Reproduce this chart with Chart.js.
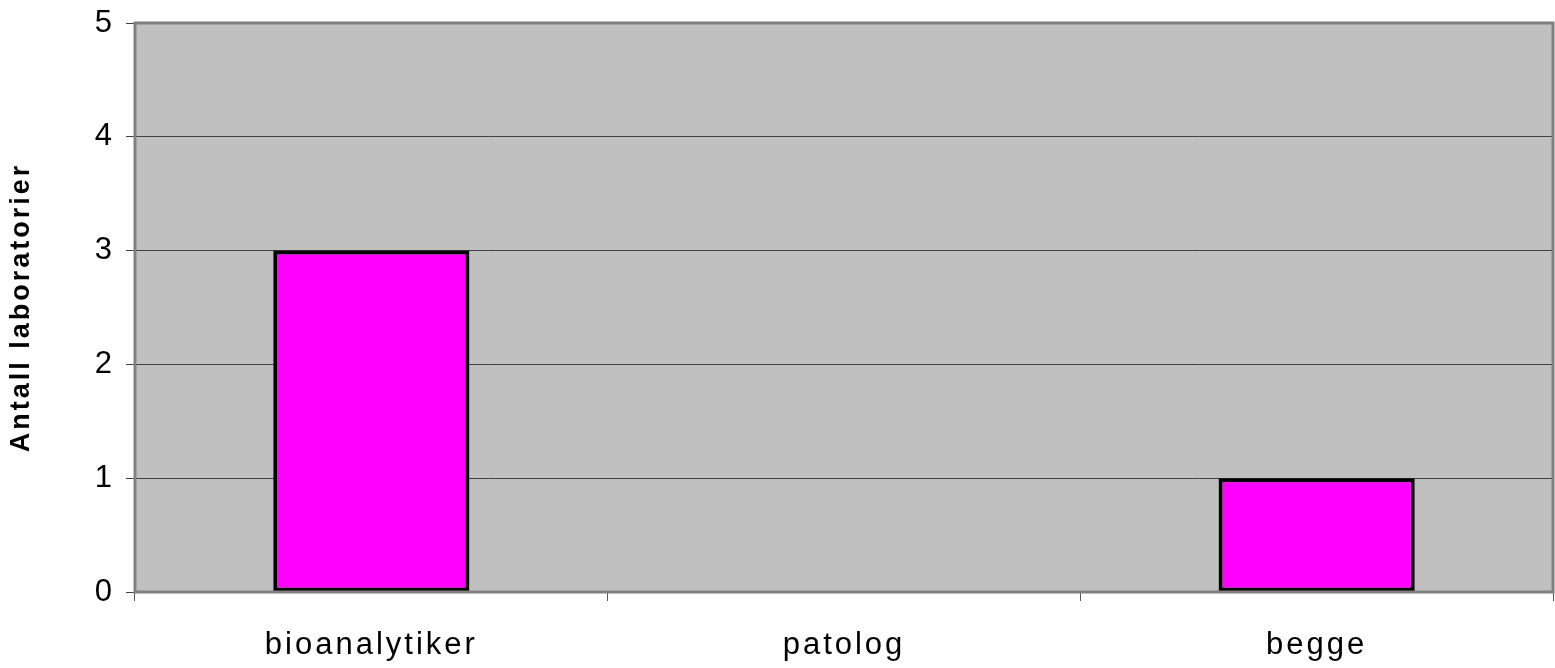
<!DOCTYPE html>
<html>
<head>
<meta charset="utf-8">
<script src="https://cdn.jsdelivr.net/npm/chart.js@4/dist/chart.umd.min.js"></script>
<style>
  html, body { margin: 0; padding: 0; background: #fff; }
  #wrap { width: 1555px; height: 668px; }
</style>
</head>
<body>
<div id="wrap"><canvas id="graph"></canvas></div>
<script>
const categories = ["bioanalytiker", "patolog", "begge"];
const antall = [3, 0, 1];
const yTicks = [0, 1, 2, 3, 4, 5];

// grey plot area with a grey frame, like the old spreadsheet chart
const plotFrame = {
  id: "plotFrame",
  beforeDraw(chart) {
    const { ctx, chartArea: a } = chart;
    ctx.save();
    ctx.fillStyle = "#c0c0c0";
    ctx.fillRect(a.left, a.top, a.right - a.left, a.bottom - a.top);
    ctx.restore();
    ctx.letterSpacing = "3px";
  },
  afterDraw(chart) {
    const { ctx, chartArea: a } = chart;
    ctx.save();
    ctx.strokeStyle = "#808080";
    ctx.lineWidth = 3;
    ctx.strokeRect(a.left, a.top, a.right - a.left, a.bottom - a.top);
    ctx.restore();
  },
};

let graph = document.getElementById("graph").getContext("2d");

new Chart(graph, {
  type: "bar",
  data: {
    labels: categories,
    datasets: [
      {
        label: "Antall laboratorier",
        data: antall,
        backgroundColor: "#ff00ff",
        borderColor: "#000000",
        borderWidth: 4,
        borderSkipped: false,
        categoryPercentage: 1,
        barPercentage: 0.415,
      },
    ],
  },
  options: {
    responsive: true,
    maintainAspectRatio: false,
    animation: false,
    layout: { padding: { top: 23, right: 2 } },
    plugins: {
      legend: { display: false },
      tooltip: { enabled: false },
    },
    scales: {
      x: {
        afterFit(scale) { scale.height = 76; },
        grid: {
          offset: true,
          drawOnChartArea: false,
          color: "#555555",
          tickLength: 9,
        },
        border: { display: false },
        ticks: {
          color: "#000000",
          padding: 26,
          font: { family: "Arial, 'Liberation Sans'", size: 31 },
        },
      },
      y: {
        min: 0,
        max: 5,
        afterFit(scale) {
          scale.width = 135;
          scale.paddingTop = 0;
          scale.paddingBottom = 0;
        },
        afterBuildTicks(scale) { scale.ticks = yTicks.map(v => ({ value: v })); },
        grid: {
          color: "#404040",
          lineWidth: 1,
          tickLength: 9,
        },
        border: { display: false },
        ticks: {
          color: "#000000",
          padding: 11,
          font: { family: "Arial, 'Liberation Sans'", size: 31 },
        },
        title: {
          display: true,
          text: "Antall laboratorier",
          color: "#000000",
          padding: { top: 5, bottom: 0 },
          font: { family: "'Liberation Sans', Arial", size: 27, weight: "bold" },
        },
      },
    },
  },
  plugins: [plotFrame],
});
</script>
</body>
</html>
